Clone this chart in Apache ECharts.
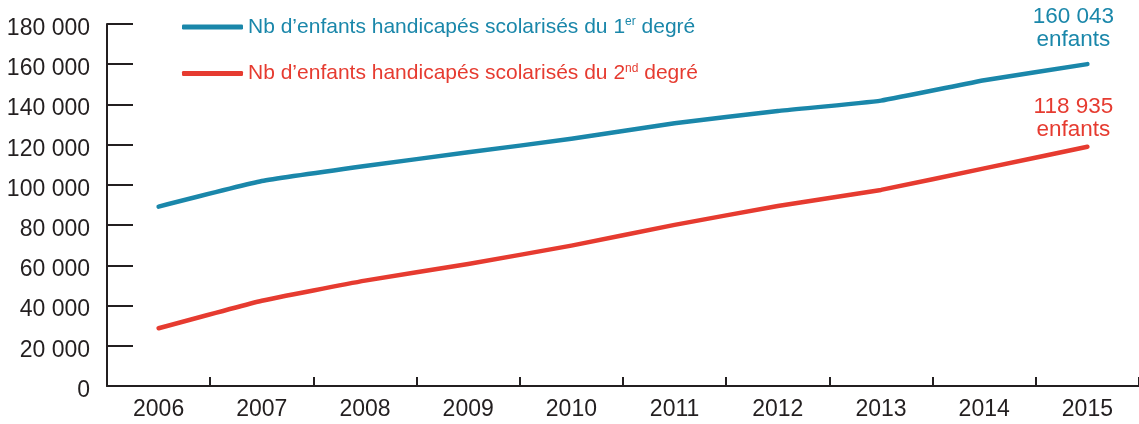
<!DOCTYPE html>
<html>
<head>
<meta charset="utf-8">
<script src="https://cdn.jsdelivr.net/npm/echarts@6/dist/echarts.min.js"></script>
<style>
html,body{margin:0;padding:0;background:#fff;}
#chart{width:1139px;height:424px;}
</style>
</head>
<body>
<div id="chart"></div>
<script>
var years = ['2006','2007','2008','2009','2010','2011','2012','2013','2014','2015'];
var premierDegre = [89200, 101900, 109400, 116200, 122900, 130600, 136700, 141900, 152000, 160043];
var secondDegre = [28700, 42400, 52400, 60700, 69800, 80100, 89500, 97500, 108200, 118935];
var yTicks = [0, 20000, 40000, 60000, 80000, 100000, 120000, 140000, 160000, 180000];
var name1 = 'Nb d’enfants handicapés scolarisés du 1er degré';
var name2 = 'Nb d’enfants handicapés scolarisés du 2nd degré';
var annot1 = ['160 043', 'enfants'];
var annot2 = ['118 935', 'enfants'];

var BLUE = '#1a87aa';
var RED = '#e63b30';
var INK = '#231f20';
var FONT = '"Liberation Sans", Arial, sans-serif';

function fmt(v){ return String(v).replace(/\B(?=(\d{3})+(?!\d))/g, ' '); }

function withLastLabel(arr, lines, color, dist){
  return arr.map(function(v, i){
    if (i !== arr.length - 1) return v;
    return {
      value: v,
      label: {
        show: true, position: 'top', distance: dist, offset: [-14, 0],
        formatter: lines.join('\n'), color: color, fontSize: 22.5, lineHeight: 23,
        fontFamily: FONT, align: 'center'
      }
    };
  });
}

var chart = echarts.init(document.getElementById('chart'), null, {renderer: 'canvas'});
var supStyle = function(c){ return {fontSize: 12, color: c, fontFamily: FONT, padding: [0, 0, 10, 0], verticalAlign: 'bottom'}; };
chart.setOption({
  backgroundColor: '#fff',
  animation: false,
  textStyle: {fontFamily: FONT},
  grid: {left: 107, top: 24, width: 1034, height: 362, containLabel: false},
  legend: {
    orient: 'vertical', left: 177, top: 11, itemGap: 25,
    itemWidth: 61, itemHeight: 5, icon: 'roundRect',
    textStyle: {fontSize: 21, fontFamily: FONT, padding: [0, 0, 0, 0]},
    formatter: function(n){
      if (n === name1) return '{t1|Nb d’enfants handicapés scolarisés du 1}{s1|er}{t1| degré}';
      return '{t2|Nb d’enfants handicapés scolarisés du 2}{s2|nd}{t2| degré}';
    },
    data: [
      {name: name1, textStyle: {rich: {t1: {fontSize: 21, color: BLUE, fontFamily: FONT}, s1: supStyle(BLUE)}}},
      {name: name2, textStyle: {rich: {t2: {fontSize: 21, color: RED, fontFamily: FONT}, s2: supStyle(RED)}}}
    ]
  },
  xAxis: {
    type: 'category', data: years, boundaryGap: true,
    axisLine: {lineStyle: {color: INK, width: 2}},
    axisTick: {show: true, inside: true, length: 9, lineStyle: {color: INK, width: 2}},
    axisLabel: {color: INK, fontSize: 23, margin: 12, fontFamily: FONT},
    splitLine: {show: false}
  },
  yAxis: {
    type: 'value', min: yTicks[0], max: yTicks[yTicks.length - 1], interval: yTicks[1] - yTicks[0],
    axisLine: {show: true, lineStyle: {color: INK, width: 2}},
    axisTick: {show: true, inside: true, length: 26, lineStyle: {color: INK, width: 2}},
    axisLabel: {color: INK, fontSize: 23, margin: 17, fontFamily: FONT, formatter: fmt,
      verticalAlign: 'top', lineHeight: 9},
    splitLine: {show: false}
  },
  series: [
    {
      name: name1, type: 'line', data: withLastLabel(premierDegre, annot1, BLUE, 13),
      smooth: 0.12, showSymbol: true, symbol: 'circle', symbolSize: 0, color: BLUE,
      lineStyle: {color: BLUE, width: 4.5, cap: 'round', join: 'round'}
    },
    {
      name: name2, type: 'line', data: withLastLabel(secondDegre, annot2, RED, 6),
      smooth: 0.12, showSymbol: true, symbol: 'circle', symbolSize: 0, color: RED,
      lineStyle: {color: RED, width: 4.5, cap: 'round', join: 'round'}
    }
  ]
});
</script>
</body>
</html>
